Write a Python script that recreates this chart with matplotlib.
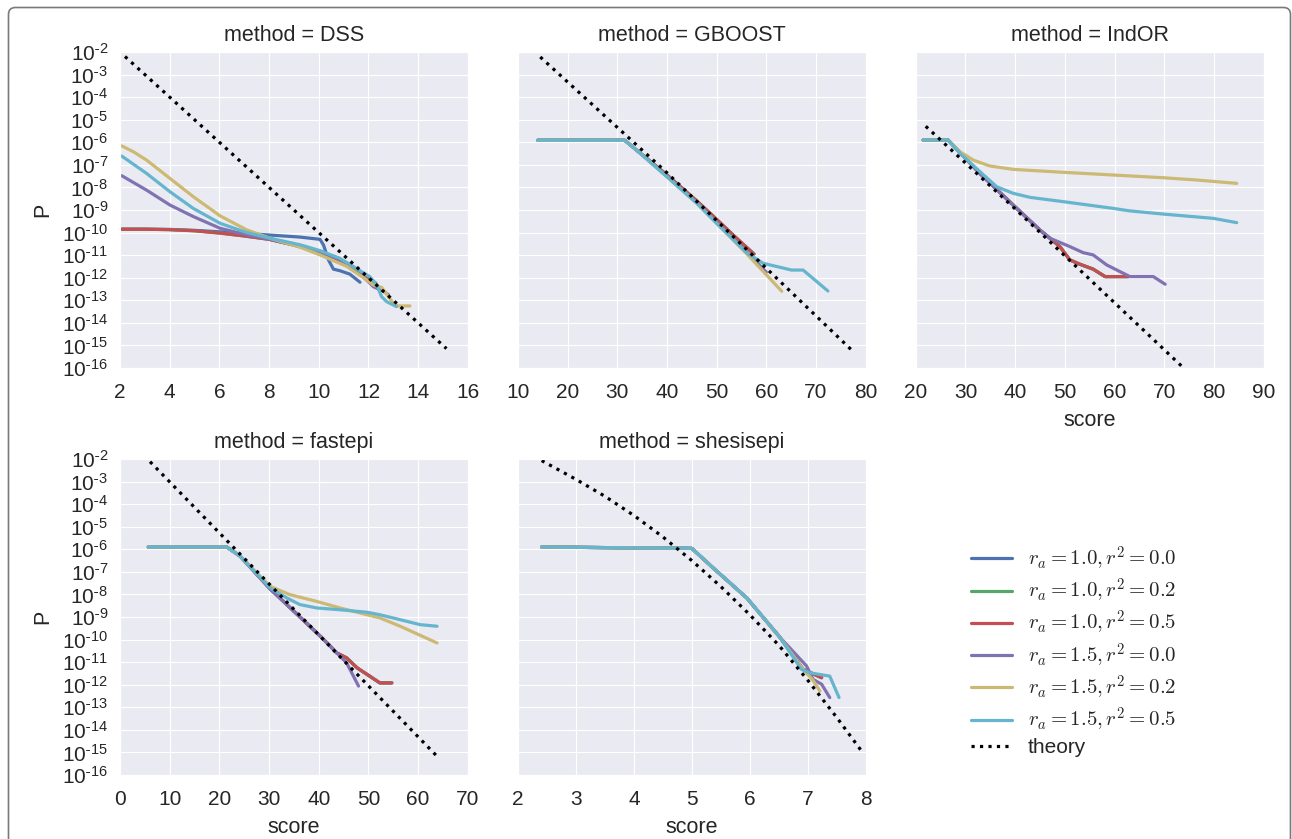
import numpy as np
import matplotlib
matplotlib.use('Agg')
import matplotlib.pyplot as plt
import seaborn as sns
from matplotlib.ticker import LogLocator, FuncFormatter, NullLocator, MultipleLocator
from matplotlib.patches import FancyBboxPatch

sns.set_style('darkgrid')
plt.rcParams['font.family'] = ['Liberation Sans', 'DejaVu Sans']
plt.rcParams['mathtext.fontset'] = 'cm'
plt.rcParams['axes.unicode_minus'] = False

# данные: score и log10(P)
methods = ['DSS', 'GBOOST', 'IndOR', 'fastepi', 'shesisepi']
labels = [r'$r_a = 1.0, r^2 = 0.0$', r'$r_a = 1.0, r^2 = 0.2$', r'$r_a = 1.0, r^2 = 0.5$',
          r'$r_a = 1.5, r^2 = 0.0$', r'$r_a = 1.5, r^2 = 0.2$', r'$r_a = 1.5, r^2 = 0.5$']
colors = ['#4C72B0', '#55A868', '#C44E52', '#8172B2', '#CCB974', '#64B5CD']
xlims = [(2, 16), (10, 80), (20, 90), (0, 70), (2, 8)]
xsteps = [2, 10, 10, 10, 1]

# DSS
dss_ra10 = ([2.07, 3, 4, 5, 6, 7, 8, 9, 10, 11, 11.5, 12, 12.3],
            [-9.85, -9.85, -9.87, -9.92, -10.02, -10.15, -10.3, -10.55, -10.85, -11.35, -11.6, -12.0, -12.25])
dss_blue = ([2.07, 3, 4, 5, 6.56, 7.9, 9.25, 9.65, 10.05, 10.19, 10.39, 10.59, 10.85, 11.25, 11.66],
            [-9.85, -9.85, -9.86, -9.9, -10.0, -10.1, -10.2, -10.25, -10.3, -10.55, -11.21, -11.62, -11.69, -11.84, -12.2])
dss_purple = ([2.07, 3.07, 4.01, 4.95, 6.03, 7.1, 8.04, 9.25, 10.05, 11.13, 11.6, 12.2, 12.6, 12.8],
              [-7.48, -8.12, -8.78, -9.29, -9.81, -10.1, -10.3, -10.62, -10.9, -11.45, -11.75, -12.4, -12.6, -12.75])
dss_yellow = ([2.07, 2.54, 3.07, 4.01, 4.95, 6.03, 7.1, 8.04, 9.25, 10.05, 11.13, 11.93, 12.19, 12.53, 12.66, 13.0, 13.2, 13.67],
              [-6.16, -6.42, -6.79, -7.6, -8.41, -9.26, -9.88, -10.25, -10.65, -10.99, -11.5, -12.1, -12.32, -12.43, -12.62, -13.13, -13.25, -13.25])
dss_cyan = ([2.07, 3.07, 4.01, 4.95, 6.03, 7.1, 8.04, 9.25, 10.05, 10.85, 12.06, 12.33, 12.53, 12.73, 13.13],
            [-6.61, -7.38, -8.19, -8.93, -9.59, -10.0, -10.25, -10.54, -10.8, -11.14, -11.96, -12.32, -12.84, -13.06, -13.28])
dss_theory = ([2.2, 15.14], [-2.2, -15.14])

# GBOOST
gb_ra10 = ([14, 31.5, 33.9, 40, 46, 50, 54, 57.5],
           [-5.91, -5.91, -6.35, -7.45, -8.6, -9.42, -10.25, -10.95])
gb_purple = ([14, 31.5, 33.9, 40, 46, 50, 56, 58, 60],
             [-5.91, -5.91, -6.35, -7.5, -8.68, -9.55, -10.85, -11.3, -11.75])
gb_yellow = ([14, 31.5, 33.9, 40, 46, 50, 56.1, 63.1],
             [-5.91, -5.91, -6.35, -7.53, -8.7, -9.59, -10.95, -12.6])
gb_cyan = ([14, 31.5, 33.9, 40, 46, 50, 56.1, 59.35, 65.07, 67.4, 72.4],
           [-5.91, -5.91, -6.35, -7.53, -8.7, -9.59, -10.9, -11.36, -11.66, -11.66, -12.59])
gb_theory = ([14.5, 40, 57, 77.1], [-2.22, -7.35, -10.95, -15.19])

# IndOR
ind_ra10 = ([21.5, 26.5, 32.9, 39.6, 45, 49, 51, 53, 55.7, 58.1, 62.8],
            [-5.9, -5.9, -7.38, -8.78, -9.89, -10.62, -11.21, -11.4, -11.62, -11.95, -11.95])
ind_purple = ([21.5, 26.5, 32.9, 39.6, 45, 47, 51, 53.7, 55.7, 58.4, 61.1, 63.1, 67.8, 70.2],
              [-5.9, -5.9, -7.38, -8.78, -9.89, -10.25, -10.62, -10.89, -10.99, -11.43, -11.73, -11.95, -11.95, -12.29])
ind_yellow = ([21.5, 26.5, 28.9, 31.6, 34.9, 39.6, 49.7, 59.8, 69.8, 76.5, 84.6],
              [-5.9, -5.9, -6.42, -6.79, -7.05, -7.2, -7.33, -7.45, -7.57, -7.67, -7.82])
ind_cyan = ([21.5, 26.5, 28.9, 32.9, 36.3, 39.6, 43, 49.7, 59.8, 63.1, 69.8, 79.9, 84.6],
            [-5.9, -5.9, -6.49, -7.3, -7.97, -8.26, -8.44, -8.63, -8.93, -9.04, -9.18, -9.37, -9.56])
ind_theory = ([22, 40, 74.0], [-5.29, -8.95, -16.02])

# fastepi
fe_ra10 = ([5.7, 21.5, 24.2, 30.2, 40.3, 42, 43.6, 45.6, 47.7, 52.3, 54.7],
           [-5.9, -5.9, -6.31, -7.75, -9.85, -10.22, -10.59, -10.81, -11.25, -11.92, -11.92])
fe_purple = ([5.7, 21.5, 24.2, 30.2, 40.3, 45.6, 48],
             [-5.9, -5.9, -6.31, -7.75, -9.85, -11.03, -12.06])
fe_yellow = ([5.7, 21.5, 24.2, 30.2, 34.2, 39.6, 44.3, 49.7, 52.3, 56.4, 63.8],
             [-5.9, -5.9, -6.31, -7.64, -8.01, -8.31, -8.6, -8.9, -9.04, -9.41, -10.15])
fe_cyan = ([5.7, 21.5, 24.2, 30.2, 33.6, 36.2, 39.6, 44.3, 49.7, 52.3, 56.4, 60.4, 63.8],
           [-5.9, -5.9, -6.31, -7.71, -8.16, -8.45, -8.6, -8.68, -8.79, -8.9, -9.12, -9.34, -9.41])
fe_theory = ([6.04, 63.76], [-2.12, -15.16])

# shesisepi
sh_ra10 = ([2.41, 5.0, 5.37, 5.95, 6.52, 6.92, 7.24],
           [-5.9, -5.96, -6.83, -8.16, -9.9, -11.32, -11.69])
sh_purple = ([2.41, 5.0, 5.37, 5.95, 6.52, 6.98, 7.09, 7.24, 7.38],
             [-5.9, -5.96, -6.83, -8.16, -9.9, -11.17, -11.76, -11.98, -12.57])
sh_yellow = ([2.41, 5.0, 5.37, 5.95, 6.52, 6.92, 7.09, 7.21],
             [-5.9, -5.96, -6.83, -8.16, -9.9, -11.32, -11.8, -12.28])
sh_cyan = ([2.41, 5.0, 5.37, 5.95, 6.52, 6.89, 7.03, 7.38, 7.54],
           [-5.9, -5.96, -6.83, -8.16, -9.9, -11.32, -11.47, -11.62, -12.57])
sh_theory = ([2.41, 3.0, 3.5, 4.0, 4.5, 5.0, 5.5, 6.0, 6.5, 7.0, 7.5, 7.96],
             [-2.07, -2.9, -3.65, -4.5, -5.45, -6.5, -7.65, -8.9, -10.25, -11.8, -13.45, -15.05])

curves = {
    'DSS': [dss_blue, dss_ra10, dss_ra10, dss_purple, dss_yellow, dss_cyan],
    'GBOOST': [gb_ra10, gb_ra10, gb_ra10, gb_purple, gb_yellow, gb_cyan],
    'IndOR': [ind_ra10, ind_ra10, ind_ra10, ind_purple, ind_yellow, ind_cyan],
    'fastepi': [fe_ra10, fe_ra10, fe_ra10, fe_purple, fe_yellow, fe_cyan],
    'shesisepi': [sh_ra10, sh_ra10, sh_ra10, sh_purple, sh_yellow, sh_cyan],
}
theory = {'DSS': dss_theory, 'GBOOST': gb_theory, 'IndOR': ind_theory,
          'fastepi': fe_theory, 'shesisepi': sh_theory}


def pow_label(v, pos):
    n = int(round(np.log10(v)))
    return r'$\mathdefault{10^{\text{-}%d}}$' % (-n)


fig, axes = plt.subplots(2, 3, figsize=(12.92, 8.39), dpi=100, sharey=True)
fig.subplots_adjust(left=0.0929, right=0.978, bottom=0.0763, top=0.938, wspace=0.144, hspace=0.288)
axes = axes.flatten()

for i, m in enumerate(methods):
    ax = axes[i]
    for (x, lp), c, lab in zip(curves[m], colors, labels):
        ax.plot(x, 10.0 ** np.array(lp), color=c, lw=2.3, label=lab, solid_capstyle='round')
    tx, tl = theory[m]
    ax.plot(tx, 10.0 ** np.array(tl), color='black', ls=':', lw=2.3, label='theory')
    ax.set_yscale('log')
    ax.set_ylim(1e-16, 1e-2)
    ax.set_xlim(*xlims[i])
    ax.xaxis.set_major_locator(MultipleLocator(xsteps[i]))
    ax.yaxis.set_major_locator(LogLocator(base=10, numticks=20))
    ax.yaxis.set_major_formatter(FuncFormatter(pow_label))
    ax.yaxis.set_minor_locator(NullLocator())
    ax.set_title('method = ' + m, fontsize=15.5, color='#262626', pad=8)
    ax.tick_params(labelsize=15, colors='#262626', pad=7)
    ax.tick_params(axis='y', labelleft=(i % 3 == 0), pad=5)
    if i % 3 == 0:
        ax.set_ylabel('P', fontsize=15.5, color='#262626', labelpad=6)
    if i >= 2:
        ax.set_xlabel('score', fontsize=15.5, color='#262626', labelpad=6)

axes[5].axis('off')

handles, labs = axes[0].get_legend_handles_labels()
fig.legend(handles, labs, loc='upper left', bbox_to_anchor=(952 / 1292, 1 - 526 / 839),
           frameon=False, fontsize=15, handlelength=2.0, labelspacing=0.2, handletextpad=0.75)

# рамка вокруг рисунка
frame = FancyBboxPatch((0.085, -0.3), 12.82, 8.615, boxstyle='round,pad=0,rounding_size=0.07',
                       transform=fig.dpi_scale_trans, facecolor='none', edgecolor='#7a7a7a', lw=1.2)
fig.patches.append(frame)

plt.savefig('out.png', dpi=100)
